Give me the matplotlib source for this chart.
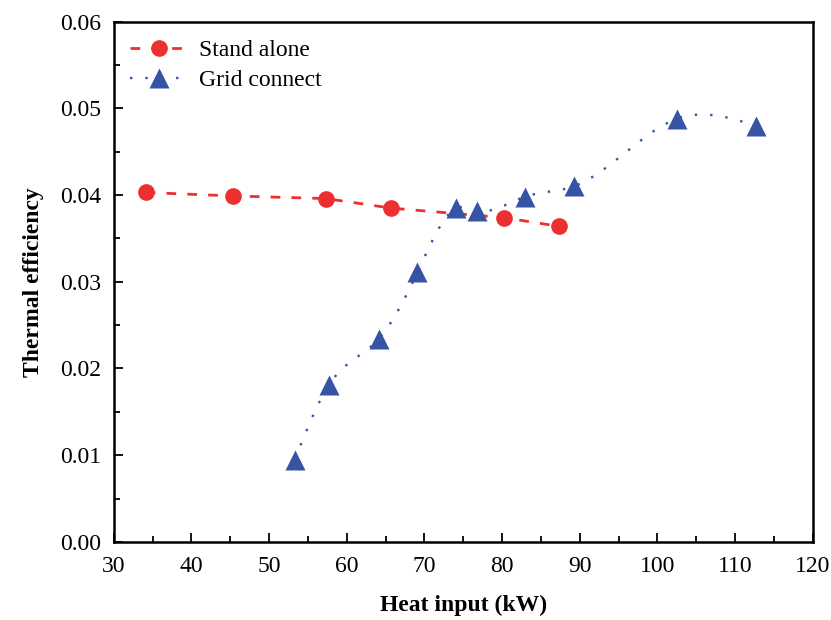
import numpy as np
import matplotlib.pyplot as plt
from matplotlib.ticker import MultipleLocator

stand_x = [34.1, 45.4, 57.3, 65.7, 80.2, 87.3]
stand_y = [0.0403, 0.0399, 0.0396, 0.0385, 0.0374, 0.0364]

grid_x = [53.3, 57.7, 64.1, 69.1, 74.1, 76.8, 82.9, 89.2, 102.5, 112.7]
grid_y = [0.0095, 0.0181, 0.0234, 0.0311, 0.0385, 0.0382, 0.0398, 0.0410, 0.0488, 0.0480]


def natural_spline(x, y, n=400):
    # smooth connecting line, like Origin's spline
    x = np.asarray(x, float)
    y = np.asarray(y, float)
    k = len(x)
    h = np.diff(x)
    A = np.zeros((k, k))
    b = np.zeros(k)
    A[0, 0] = 1
    A[-1, -1] = 1
    for i in range(1, k - 1):
        A[i, i - 1] = h[i - 1]
        A[i, i] = 2 * (h[i - 1] + h[i])
        A[i, i + 1] = h[i]
        b[i] = 3 * ((y[i + 1] - y[i]) / h[i] - (y[i] - y[i - 1]) / h[i - 1])
    c = np.linalg.solve(A, b)
    xs = np.linspace(x[0], x[-1], n)
    idx = np.clip(np.searchsorted(x, xs) - 1, 0, k - 2)
    dx = xs - x[idx]
    hi = h[idx]
    bi = (y[idx + 1] - y[idx]) / hi - hi * (2 * c[idx] + c[idx + 1]) / 3
    di = (c[idx + 1] - c[idx]) / (3 * hi)
    ys = y[idx] + bi * dx + c[idx] * dx ** 2 + di * dx ** 3
    return xs, ys


plt.rcParams['font.family'] = ['Liberation Serif', 'DejaVu Serif']

red = '#EC3030'
blue = '#3653A4'
dash = (0, (3.5, 4))
dots = (0, (1, 5.5))

fig = plt.figure(figsize=(8.31, 6.2), dpi=100)
ax = fig.add_axes([0.137, 0.126, 0.841, 0.839])

ax.plot(stand_x, stand_y, ls=dash, color=red, lw=2)
ax.plot(stand_x, stand_y, 'o', color=red, ms=12, mec='none')
sx, sy = natural_spline(grid_x, grid_y)
ax.plot(sx, sy, ls=dots, color=blue, lw=1.7)
ax.plot(grid_x, grid_y, '^', color=blue, ms=14, mec='none')

# legend proxies
ax.plot([], [], ls=dash, color=red, lw=2, marker='o', ms=12, mec='none', label='Stand alone')
ax.plot([], [], ls=dots, color=blue, lw=1.7, marker='^', ms=14, mec='none', label='Grid connect')
handles, labels = ax.get_legend_handles_labels()
ax.legend(handles, labels, loc='upper left', frameon=False, fontsize=17,
          handlelength=2.4, handletextpad=0.5, labelspacing=0.35,
          borderaxespad=0.3, bbox_to_anchor=(0.0, 0.997))

ax.set_xlim(30, 120)
ax.set_ylim(0, 0.06)
ax.xaxis.set_major_locator(MultipleLocator(10))
ax.xaxis.set_minor_locator(MultipleLocator(5))
ax.yaxis.set_major_locator(MultipleLocator(0.01))
ax.yaxis.set_minor_locator(MultipleLocator(0.005))
ax.yaxis.set_major_formatter(plt.FormatStrFormatter('%.2f'))
ax.tick_params(which='both', direction='in', labelsize=17, width=1.3)
ax.tick_params(axis='y', which='major', length=6.5, pad=9)
ax.tick_params(axis='x', which='major', length=6.5, pad=10)
ax.tick_params(which='minor', length=4)
for s in ax.spines.values():
    s.set_linewidth(1.8)

ax.set_xlabel('Heat input (kW)', fontsize=17, fontweight='bold', labelpad=13)
ax.set_ylabel('Thermal efficiency', fontsize=17, fontweight='bold', labelpad=12)

fig.savefig('out.png', dpi=100)
